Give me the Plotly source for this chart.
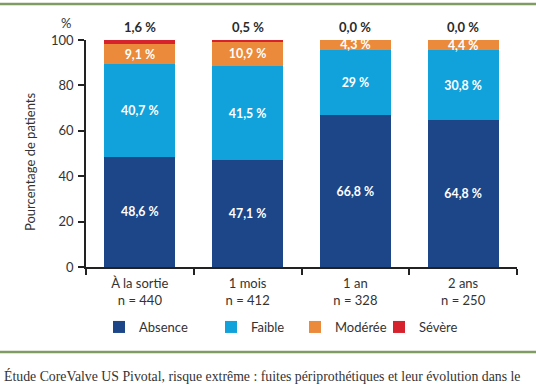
import plotly.graph_objects as go

categories = ["À la sortie<br>n = 440", "1 mois<br>n = 412", "1 an<br>n = 328", "2 ans<br>n = 250"]
absence = [48.6, 47.1, 66.8, 64.8]
faible = [40.7, 41.5, 29.0, 30.8]
moderee = [9.1, 10.9, 4.3, 4.4]
severe = [1.6, 0.5, 0.0, 0.0]

absence_lbl = ["48,6 %", "47,1 %", "66,8 %", "64,8 %"]
faible_lbl = ["40,7 %", "41,5 %", "29 %", "30,8 %"]
moderee_lbl = ["9,1 %", "10,9 %", "4,3 %", "4,4 %"]
severe_lbl = ["1,6 %", "0,5 %", "0,0 %", "0,0 %"]

y_ticks = [0, 20, 40, 60, 80, 100]

FONT = "Lato"
W, H = 536, 386
L, R, T, B = 86, 19, 40, 119
PW, PH = W - L - R, H - T - B

def px2x(px):
    return (px - L) / PW

def py2y(py):
    return (H - B - py) / PH

series = [
    ("Absence", absence, absence_lbl, "#1c4688"),
    ("Faible", faible, faible_lbl, "#11a1db"),
    ("Modérée", moderee, moderee_lbl, "#ea8a3a"),
    ("Sévère", severe, severe_lbl, "#d6222c"),
]
legend_px = [99, 211, 295, 379]

fig = go.Figure()
for i, (name, vals, lbls, col) in enumerate(series):
    show_text = name != "Sévère"
    fig.add_trace(go.Bar(
        x=categories, y=vals, name=name,
        marker=dict(color=col, line=dict(width=0)),
        text=lbls if show_text else None,
        textposition="inside" if show_text else "none",
        insidetextanchor="middle",
        textangle=0,
        textfont=dict(family=FONT, size=13.5, color="white", weight="bold"),
        legend="legend" if i == 0 else f"legend{i+1}",
        showlegend=True,
        hoverinfo="skip",
    ))

totals = [a + b + c + d for a, b, c, d in zip(absence, faible, moderee, severe)]
for cat, tot, lbl in zip(categories, totals, severe_lbl):
    fig.add_annotation(x=cat, y=min(tot, 100), text=lbl, showarrow=False,
                       yanchor="bottom", yshift=3,
                       font=dict(family=FONT, size=13, color="#2b2b2b", weight="bold"))

# "%" unit above axis
fig.add_annotation(xref="paper", yref="paper", x=px2x(66), y=py2y(23), text="%",
                   xanchor="center", yanchor="middle",
                   showarrow=False, font=dict(family=FONT, size=13, color="#333"))
# y axis title
fig.add_annotation(xref="paper", yref="paper", x=px2x(30), y=py2y(162),
                   xanchor="center", yanchor="middle",
                   text="Pourcentage de patients", textangle=-90, showarrow=False,
                   font=dict(family=FONT, size=13, color="#333"))
# caption (as visible in the reference)
fig.add_annotation(xref="paper", yref="paper", x=px2x(2), y=py2y(376),
                   xanchor="left", yanchor="middle",
                   text="Étude CoreValve US Pivotal, risque extrême : fuites périprothétiques et leur évolution dans le",
                   showarrow=False, font=dict(family="Liberation Serif", size=13.8, color="#333"))

# green rules
for yy in (4, 352):
    fig.add_shape(type="line", xref="paper", yref="paper",
                  x0=px2x(0), x1=px2x(W), y0=py2y(yy), y1=py2y(yy),
                  line=dict(color="#7f9d62", width=2.5))

leg_common = dict(orientation="h", yref="paper", xanchor="left", yanchor="middle",
                  font=dict(family=FONT, size=13, color="#333"),
                  bgcolor="rgba(0,0,0,0)", itemclick=False, itemdoubleclick=False)
layout_legends = {}
for i, lx in enumerate(legend_px):
    key = "legend" if i == 0 else f"legend{i+1}"
    layout_legends[key] = dict(x=px2x(lx), y=py2y(327), **leg_common)

fig.update_layout(
    width=W, height=H,
    margin=dict(l=L, r=R, t=T, b=B, autoexpand=False),
    paper_bgcolor="white", plot_bgcolor="white",
    showlegend=True,
    barmode="stack", bargap=0.34,
    uniformtext=dict(minsize=12, mode="show"),
    font=dict(family=FONT, size=13, color="#333"),
    xaxis=dict(showline=True, linecolor="#222", linewidth=1.5, ticks="outside",
               tickson="boundaries", ticklen=6, tickcolor="#222", tickwidth=1.5,
               ticklabelstandoff=4,
               tickfont=dict(family=FONT, size=13, color="#333"), showgrid=False,
               fixedrange=True),
    yaxis=dict(range=[0, 100], tickvals=y_ticks, showline=True, linecolor="#222",
               linewidth=1.5, ticks="outside", ticklen=6, tickcolor="#222", tickwidth=1.5,
               ticklabelstandoff=2,
               tickfont=dict(family=FONT, size=13, color="#333"), showgrid=False,
               zeroline=False, fixedrange=True),
    **layout_legends,
)

fig.write_html("out.html", config={"displayModeBar": False},
               post_script="document.body.style.margin='0';document.body.style.overflow='hidden';")
